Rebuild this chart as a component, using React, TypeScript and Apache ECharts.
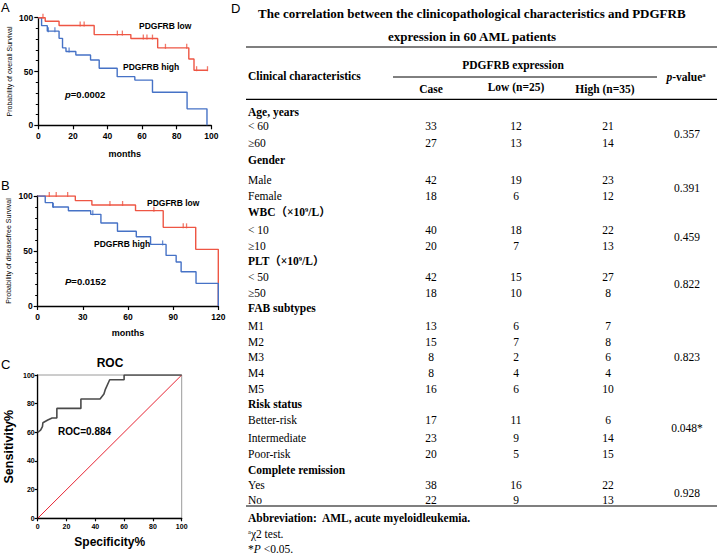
import React, { useEffect, useRef } from "react";
import * as echarts from "echarts";

// ---------- Panel A: overall survival (months, %) ----------
const osLowTime = [0, 4, 12, 32.3, 53.5, 69, 87, 90, 98];
const osLowSurv = [100, 96.7, 92.8, 84.3, 80.6, 72, 61.6, 51.2, 51.2];
const osLowCensor = [2.7, 24.2, 26.5, 45.7, 48.6, 60.7, 62.8, 66, 73.5, 85.8, 91.5, 97.8];
const osHighTime = [0, 1.9, 5.2, 12, 14, 16, 21.7, 30.2, 35.2, 45.6, 55.8, 66, 86, 97.5];
const osHighSurv = [100, 92.6, 87.5, 80.8, 72, 68.6, 65.3, 60.7, 53, 45.2, 42, 30.7, 15.3, 0];
const osHighCensor = [5.8, 9.6, 17.8];

// ---------- Panel B: disease-free survival ----------
const dfsLowTime = [0, 25, 36, 65, 83.4, 105, 120];
const dfsLowSurv = [100, 95.8, 91.8, 86.7, 71.5, 51.5, 0];
const dfsLowCensor = [7.7, 12.3, 19.9, 48, 56.4, 77.2, 96.7, 98.9];
const dfsHighTime = [0, 5, 10, 20.4, 35.2, 42, 53, 65.5, 75, 85.3, 92, 95.3, 105.2, 120];
const dfsHighSurv = [100, 94, 90, 86.6, 83.3, 75.5, 68, 63, 56, 46, 40, 31.2, 20.6, 0];
const dfsHighCensor = [10.4, 36.6, 83];

// ---------- Panel C: ROC ----------
const rocFpr = [0, 2, 3.3, 3.6, 7, 10, 13.3, 13.3, 30, 30, 43.3, 46, 47, 50, 60, 60, 100];
const rocTpr = [60, 61.5, 64, 66.7, 68.6, 70, 70, 76.7, 76.7, 83.3, 83.3, 86.7, 90, 96.7, 96.7, 100, 100];
const diagX = [0, 100];
const diagY = [0, 100];

// ---------- Panel D: table ----------
const sectionTitles = ["Age, years", "Gender", "WBC（×10^9/L）", "PLT（×10^9/L）", "FAB subtypes", "Risk status", "Complete remission"];
const sectionSizes = [2, 2, 2, 2, 5, 3, 2];
const rowLabels = ["< 60", "≥60", "Male", "Female", "< 10", "≥10", "< 50", "≥50", "M1", "M2", "M3", "M4", "M5", "Better-risk", "Intermediate", "Poor-risk", "Yes", "No"];
const caseCounts = [33, 27, 42, 18, 40, 20, 42, 18, 13, 15, 8, 8, 16, 17, 23, 20, 38, 22];
const lowCounts = [12, 13, 19, 6, 18, 7, 15, 10, 6, 7, 2, 4, 6, 11, 9, 5, 16, 9];
const highCounts = [21, 14, 23, 12, 22, 13, 27, 8, 7, 8, 6, 4, 10, 6, 14, 15, 22, 13];
const pValues = ["0.357", "0.391", "0.459", "0.822", "0.823", "0.048*", "0.928"];

// layout (pixels) for the table
const sectionY = [111.5, 160, 212, 261, 308, 404, 469.5];
const rowY = [126, 142.5, 180, 196, 230, 246, 276.5, 292.5, 326, 341.5, 357, 372.5, 388.5, 419.5, 437.5, 453.5, 485, 500];
const pY = [134, 188, 237, 283.5, 357, 428, 492.5];

const SANS = '"Liberation Sans", Arial, Helvetica, sans-serif';
const SERIF = '"Liberation Serif", "Times New Roman", "Noto Sans CJK SC", serif';
const RED = "#EE5644";
const BLUE = "#4672C6";

function pairs(xs: number[], ys: number[]) {
  return xs.map((x, i) => [x, ys[i]]);
}
function stepAt(times: number[], surv: number[], t: number) {
  let v = surv[0];
  for (let i = 0; i < times.length; i++) if (times[i] <= t) v = surv[i];
  return v;
}
function censorPts(times: number[], surv: number[], cs: number[]) {
  return cs.map((t) => [t, stepAt(times, surv, t)]);
}

function txt(x: number, y: number, text: string, o: any = {}) {
  const align = o.align || "left";
  const va = o.va || "middle";
  return {
    type: "text",
    x,
    y,
    silent: true,
    rotation: o.rotation || 0,
    style: {
      text,
      fill: "#000",
      align,
      textAlign: align,
      verticalAlign: va,
      textVerticalAlign: va,
      fontSize: o.size || 11.5,
      fontWeight: o.weight || "normal",
      fontStyle: o.style || "normal",
      fontFamily: o.family || SERIF,
      rich: o.rich,
    },
  };
}
function hline(x1: number, x2: number, y: number, w = 1.2) {
  return {
    type: "line",
    silent: true,
    shape: { x1, y1: y, x2, y2: y },
    style: { stroke: "#000", lineWidth: w },
  };
}

function richSup(s: string, base: string) {
  const parts = s.split(/\^(\w)/);
  return parts
    .map((p, i) => (i % 2 === 1 ? `{s|${p}}` : p ? `{${base}|${p}}` : ""))
    .join("");
}

export default function App() {
  const ref = useRef<HTMLDivElement>(null);
  useEffect(() => {
    document.body.style.margin = "0";
    const chart = echarts.init(ref.current!, null, { renderer: "svg" });

    const axisLine = { show: true, lineStyle: { color: "#000", width: 1.3 } };
    const tick = (len: number) => ({ show: true, length: len, lineStyle: { color: "#000", width: 1.2 } });
    const lab = (size: number, margin: number) => ({
      color: "#000",
      fontSize: size,
      fontWeight: "bold",
      fontFamily: SANS,
      margin,
    });

    const kmX = (grid: number, max: number, interval: number, gap: number) => ({
      type: "value",
      gridIndex: grid,
      min: 0,
      max,
      interval,
      axisLine,
      axisTick: tick(4),
      axisLabel: lab(8.5, 6),
      splitLine: { show: false },
      name: "months",
      nameLocation: "middle",
      nameGap: gap,
      nameTextStyle: { color: "#000", fontSize: 9, fontWeight: "bold", fontFamily: SANS },
    });
    const kmY = (grid: number, name: string, gap: number) => ({
      type: "value",
      gridIndex: grid,
      min: 0,
      max: 100,
      interval: 50,
      axisLine,
      axisTick: tick(4),
      minorTick: { show: true, splitNumber: 5, length: 2.5, lineStyle: { color: "#000", width: 1 } },
      axisLabel: lab(8.5, 5),
      splitLine: { show: false },
      name,
      nameLocation: "middle",
      nameGap: gap,
      nameTextStyle: { color: "#000", fontSize: 7, fontFamily: SANS },
    });

    const kmLine = (name: string, data: number[][], color: string, xi: number, z: number) => ({
      name,
      type: "line",
      step: "end",
      xAxisIndex: xi,
      yAxisIndex: xi,
      data,
      showSymbol: false,
      symbol: "none",
      lineStyle: { color, width: 1.4 },
      z,
    });
    const kmCensor = (data: number[][], color: string, xi: number) => ({
      type: "scatter",
      xAxisIndex: xi,
      yAxisIndex: xi,
      data,
      symbol: "rect",
      symbolSize: [1.3, 5],
      symbolOffset: [0, -1.5],
      itemStyle: { color },
      z: 5,
    });

    const graphics: any[] = [];
    // panel letters
    graphics.push(txt(1, 7, "A", { size: 13, family: SANS }));
    graphics.push(txt(1, 185, "B", { size: 13, family: SANS }));
    graphics.push(txt(1, 364, "C", { size: 13, family: SANS }));
    graphics.push(txt(231, 8, "D", { size: 13, family: SANS }));

    // KM annotations
    const ann = { size: 8.5, weight: "bold", family: SANS };
    graphics.push(txt(139, 26, "PDGFRB low", ann));
    graphics.push(txt(123, 67, "PDGFRB high", ann));
    graphics.push(
      txt(65, 94, "{i|p}{b|=0.0002}", {
        ...ann,
        rich: {
          i: { fontSize: 9.5, fontStyle: "italic", fontWeight: "bold", fontFamily: SANS },
          b: { fontSize: 9.5, fontWeight: "bold", fontFamily: SANS },
        },
      })
    );
    graphics.push(txt(147, 203, "PDGFRB low", ann));
    graphics.push(txt(94, 244, "PDGFRB high", ann));
    graphics.push(
      txt(65, 281, "{i|P}{b|=0.0152}", {
        ...ann,
        rich: {
          i: { fontSize: 9.5, fontStyle: "italic", fontWeight: "bold", fontFamily: SANS },
          b: { fontSize: 9.5, fontWeight: "bold", fontFamily: SANS },
        },
      })
    );
    // ROC annotations
    graphics.push(txt(110, 363, "ROC", { size: 12, weight: "bold", family: SANS, align: "center" }));
    graphics.push(txt(58, 431, "ROC=0.884", { size: 10, weight: "bold", family: SANS }));

    // ---------- table ----------
    graphics.push(
      txt(258, 13, "The correlation between the clinicopathological characteristics and PDGFRB", { size: 13, weight: "bold" })
    );
    graphics.push(txt(472, 36, "expression in 60 AML patients", { size: 13, weight: "bold", align: "center" }));
    graphics.push(hline(246, 717, 47));
    graphics.push(txt(513, 64.5, "PDGFRB expression", { weight: "bold", align: "center" }));
    graphics.push(txt(248, 76, "Clinical characteristics", { weight: "bold" }));
    graphics.push(hline(393, 657, 77, 1));
    graphics.push(txt(431, 89, "Case", { weight: "bold", align: "center" }));
    graphics.push(txt(516, 87, "Low (n=25)", { weight: "bold", align: "center" }));
    graphics.push(txt(605, 88.5, "High (n=35)", { weight: "bold", align: "center" }));
    graphics.push(
      txt(686, 77, "{i|p}{b|-value}{s|a}", {
        align: "center",
        rich: {
          i: { fontSize: 11.5, fontStyle: "italic", fontWeight: "bold", fontFamily: SERIF },
          b: { fontSize: 11.5, fontWeight: "bold", fontFamily: SERIF },
          s: { fontSize: 6.5, fontWeight: "bold", fontFamily: SERIF, verticalAlign: "top" },
        },
      })
    );
    graphics.push(hline(246, 717, 99.3));

    const supRich = {
      b: { fontSize: 11.5, fontWeight: "bold", fontFamily: SERIF },
      s: { fontSize: 6.5, fontWeight: "bold", fontFamily: SERIF, verticalAlign: "top" },
    };
    sectionTitles.forEach((t, i) => {
      graphics.push(txt(248, sectionY[i], richSup(t, "b"), { weight: "bold", rich: supRich }));
      graphics.push(txt(687, pY[i], pValues[i], { align: "center" }));
    });
    rowLabels.forEach((l, i) => {
      graphics.push(txt(248, rowY[i], l));
      graphics.push(txt(431, rowY[i], String(caseCounts[i]), { align: "center" }));
      graphics.push(txt(516, rowY[i], String(lowCounts[i]), { align: "center" }));
      graphics.push(txt(608, rowY[i], String(highCounts[i]), { align: "center" }));
    });
    graphics.push(hline(246, 717, 506));
    graphics.push(txt(248, 517.5, "Abbreviation:  AML, acute myeloidleukemia.", { weight: "bold" }));
    graphics.push(
      txt(248, 533.5, "{s|a}{n|χ2 test.}", {
        rich: {
          s: { fontSize: 6.5, fontFamily: SERIF, verticalAlign: "top" },
          n: { fontSize: 11.5, fontFamily: SERIF },
        },
      })
    );
    graphics.push(
      txt(248, 549, "{n|*}{i|P}{n| <0.05.}", {
        rich: {
          n: { fontSize: 11.5, fontFamily: SERIF },
          i: { fontSize: 11.5, fontStyle: "italic", fontFamily: SERIF },
        },
      })
    );

    const option: any = {
      animation: false,
      backgroundColor: "#fff",
      grid: [
        { left: 38.3, top: 17.7, width: 173, height: 107.6 },
        { left: 37.7, top: 196, width: 180.6, height: 110 },
        { left: 37.7, top: 375, width: 144, height: 143.3, show: true, borderColor: "#9a9a9a", borderWidth: 1 },
      ],
      xAxis: [
        kmX(0, 100, 20, 24),
        kmX(1, 120, 30, 22),
        {
          type: "value",
          gridIndex: 2,
          min: 0,
          max: 100,
          interval: 20,
          axisLine,
          axisTick: tick(3),
          axisLabel: lab(7, 5),
          splitLine: { show: false },
          name: "Specificity%",
          nameLocation: "middle",
          nameGap: 18,
          nameTextStyle: { color: "#000", fontSize: 12, fontWeight: "bold", fontFamily: SANS },
        },
      ],
      yAxis: [
        kmY(0, "Probability of overall Survival", 25),
        kmY(1, "Probability of diseasefree Survival", 26),
        {
          type: "value",
          gridIndex: 2,
          min: 0,
          max: 100,
          interval: 20,
          axisLine,
          axisTick: tick(3),
          axisLabel: lab(7, 3),
          splitLine: { show: false },
          name: "Sensitivity%",
          nameLocation: "middle",
          nameGap: 22,
          nameTextStyle: { color: "#000", fontSize: 12.5, fontWeight: "bold", fontFamily: SANS },
        },
      ],
      series: [
        kmLine("PDGFRB low", pairs(osLowTime, osLowSurv), RED, 0, 3),
        kmLine("PDGFRB high", pairs(osHighTime, osHighSurv), BLUE, 0, 2),
        kmCensor(censorPts(osLowTime, osLowSurv, osLowCensor), RED, 0),
        kmCensor(censorPts(osHighTime, osHighSurv, osHighCensor), BLUE, 0),
        kmLine("PDGFRB low", pairs(dfsLowTime, dfsLowSurv), RED, 1, 2),
        kmLine("PDGFRB high", pairs(dfsHighTime, dfsHighSurv), BLUE, 1, 3),
        kmCensor(censorPts(dfsLowTime, dfsLowSurv, dfsLowCensor), RED, 1),
        kmCensor(censorPts(dfsHighTime, dfsHighSurv, dfsHighCensor), BLUE, 1),
        {
          type: "line",
          xAxisIndex: 2,
          yAxisIndex: 2,
          data: pairs(diagX, diagY),
          showSymbol: false,
          symbol: "none",
          lineStyle: { color: "#E62433", width: 1 },
          z: 2,
        },
        {
          type: "line",
          xAxisIndex: 2,
          yAxisIndex: 2,
          data: pairs(rocFpr, rocTpr),
          showSymbol: false,
          symbol: "none",
          lineStyle: { color: "#4a4a4a", width: 1.6 },
          z: 3,
        },
      ],
      graphic: graphics,
    };
    chart.setOption(option);
    return () => chart.dispose();
  }, []);
  return (
    <div
      ref={ref}
      style={{ position: "absolute", left: 0, top: 0, width: 720, height: 558, background: "#fff" }}
    />
  );
}
